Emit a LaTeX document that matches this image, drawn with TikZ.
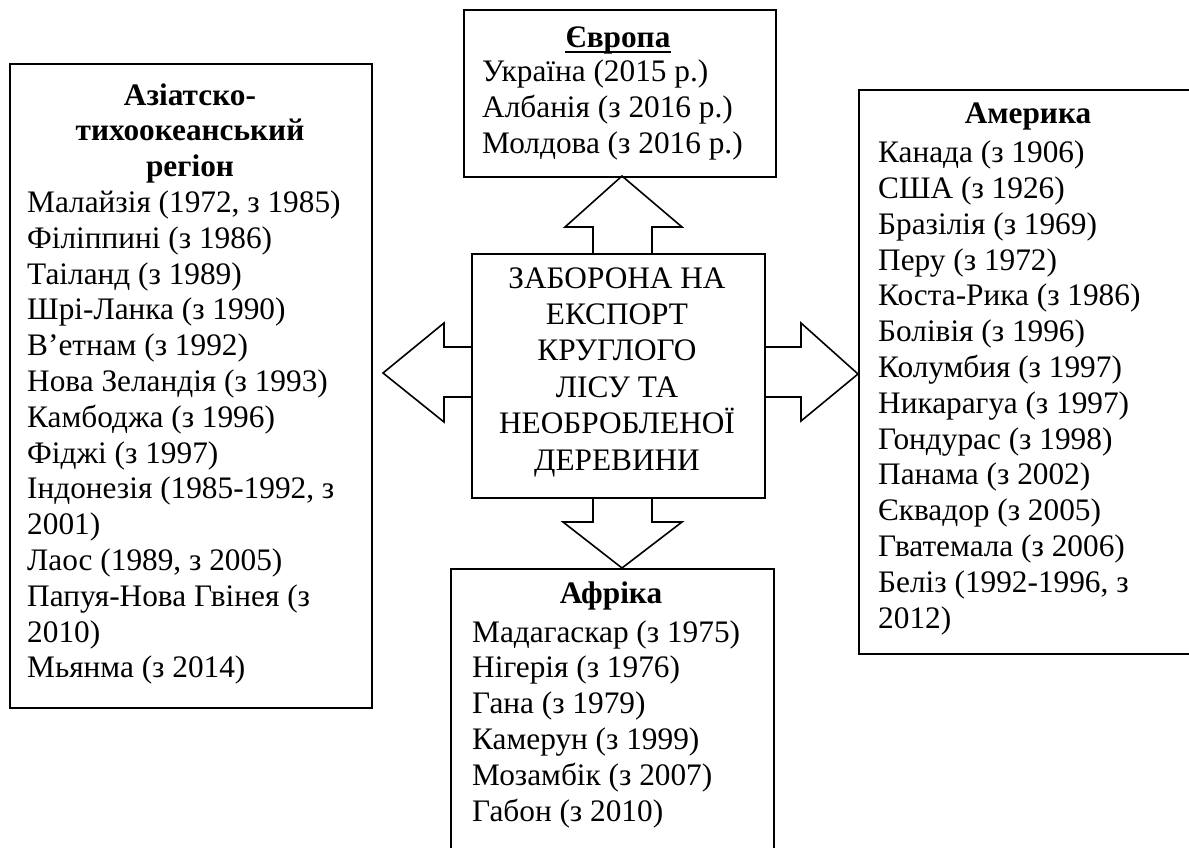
\documentclass[tikz,border=0pt]{standalone}
\usepackage{fontspec}
\setmainfont{Liberation Serif}
\usetikzlibrary{calc}
\begin{document}
\begin{tikzpicture}[x=1pt,y=-1pt,
  boxst/.style={draw,line width=2pt,inner sep=0pt,anchor=north west},
  txt/.style={inner sep=0pt,align=left,font=\fontsize{31.3}{35.8}\selectfont},
  hd/.style={inner sep=0pt,align=center,font=\fontsize{31.3}{35.8}\selectfont\bfseries},
  ctxt/.style={inner sep=0pt,align=center,font=\fontsize{31.3}{36.4}\selectfont},
  barrow/.style={draw,line width=1.6pt,line join=miter}]
\useasboundingbox (0,0) rectangle (1189,847);
\clip (0,0) rectangle (1189,847);

% boxes
\node[boxst,minimum width=312pt,minimum height=167pt] (eur) at (463,9) {};
\node[boxst,minimum width=362pt,minimum height=644pt] (asia) at (9,63) {};
\node[boxst,minimum width=342pt,minimum height=564pt] (amer) at (858,89) {};
\node[boxst,minimum width=323pt,minimum height=302pt] (afr) at (450,568) {};
\node[boxst,minimum width=293pt,minimum height=244pt] (ctr) at (471,253) {};

% block arrows
\draw[barrow] (593,253) -- (593,227) -- (565,227) -- (622,176) -- (682,227) -- (652,227) -- (652,253);
\draw[barrow] (593,497) -- (593,522) -- (563,522) -- (622,568) -- (682,522) -- (652,522) -- (652,497);
\draw[barrow] (471,347) -- (444,347) -- (444,323) -- (383,373) -- (444,422) -- (444,397) -- (471,397);
\draw[barrow] (764,347) -- (801,347) -- (801,323) -- (858,374) -- (801,421) -- (801,397) -- (764,397);

% centre (base anchor = baseline of last line)
\node[ctxt,anchor=base] (ctrt) at (617,470) {ЗАБОРОНА НА\\ЕКСПОРТ\\КРУГЛОГО\\ЛІСУ ТА\\НЕОБРОБЛЕНОЇ\\ДЕРЕВИНИ};

% Europe
\node[hd,anchor=base] (eurh) at (618,47) {Європа};
\draw[line width=1.6pt] ($(eurh.base west)+(0,5)$) -- ($(eurh.base east)+(0,5)$);
\node[txt,anchor=base west] (eurl) at (482,153) {Україна (2015 р.)\\Албанія (з 2016 р.)\\Молдова (з 2016 р.)};

% Asia
\node[hd,anchor=base] (asiah) at (190,176.6) {Азіатско-\\тихоокеанський\\регіон};
\node[txt,anchor=base west] (asial) at (27,677.8) {Малайзія (1972, з 1985)\\Філіппині (з 1986)\\Таіланд (з 1989)\\Шрі-Ланка (з 1990)\\В’етнам (з 1992)\\Нова Зеландія (з 1993)\\Камбоджа (з 1996)\\Фіджі (з 1997)\\Індонезія (1985-1992, з\\2001)\\Лаос (1989, з 2005)\\Папуя-Нова Гвінея (з\\2010)\\Мьянма (з 2014)};

% America
\node[hd,anchor=base] (amerh) at (1028,123) {Америка};
\node[txt,anchor=base west] (amerl) at (878,628) {Канада (з 1906)\\США (з 1926)\\Бразілія (з 1969)\\Перу (з 1972)\\Коста-Рика (з 1986)\\Болівія (з 1996)\\Колумбия (з 1997)\\Никарагуа (з 1997)\\Гондурас (з 1998)\\Панама (з 2002)\\Єквадор (з 2005)\\Гватемала (з 2006)\\Беліз (1992-1996, з\\2012)};

% Africa
\node[hd,anchor=base] (afrh) at (611,603) {Афріка};
\node[txt,anchor=base west] (afrl) at (472,821) {Мадагаскар (з 1975)\\Нігерія (з 1976)\\Гана (з 1979)\\Камерун (з 1999)\\Мозамбік (з 2007)\\Габон (з 2010)};
\end{tikzpicture}
\end{document}
